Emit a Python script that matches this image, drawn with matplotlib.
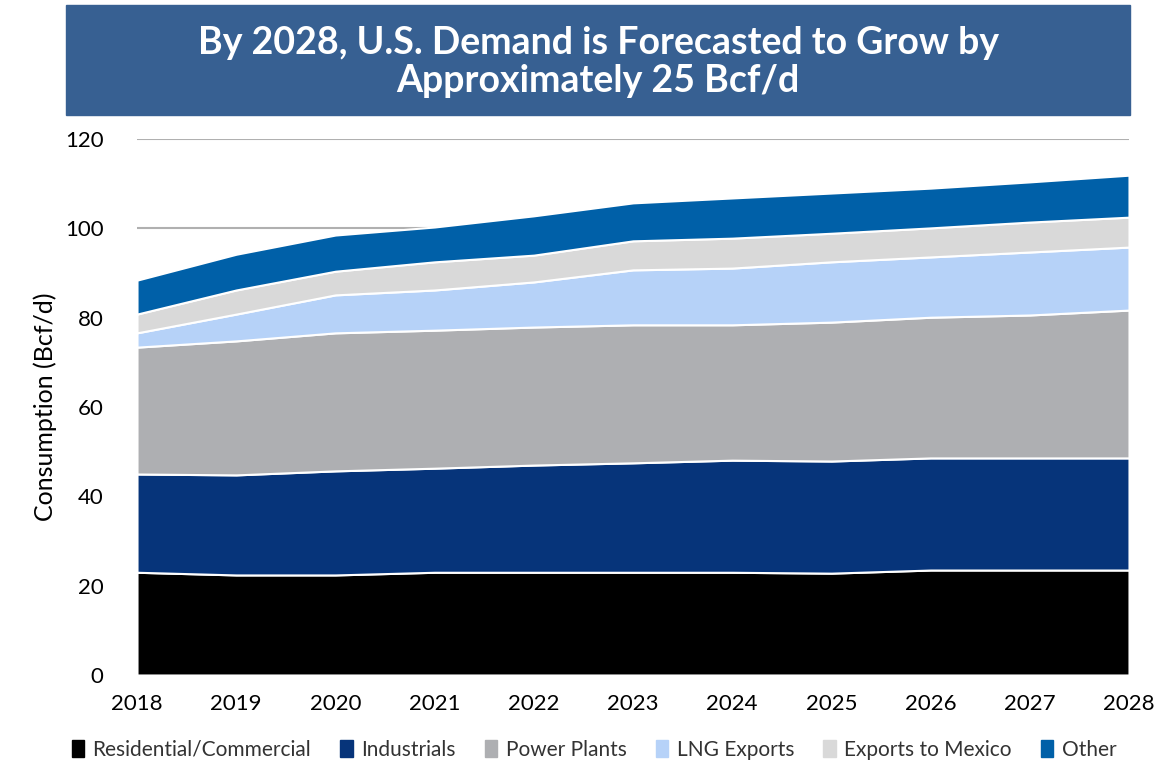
import matplotlib.pyplot as plt
import matplotlib.patches as mpatches

years = [2018, 2019, 2020, 2021, 2022, 2023, 2024, 2025, 2026, 2027, 2028]

# cumulative tops, converted to layer sizes below
top_res = [23.0, 22.4, 22.4, 23.0, 23.0, 23.0, 23.0, 22.8, 23.5, 23.5, 23.5]
top_ind = [45.0, 44.8, 45.7, 46.3, 47.0, 47.5, 48.1, 47.9, 48.6, 48.6, 48.6]
top_pow = [73.4, 74.8, 76.6, 77.2, 77.9, 78.4, 78.4, 79.0, 80.1, 80.6, 81.7]
top_lng = [76.6, 80.8, 85.1, 86.2, 88.0, 90.7, 91.1, 92.5, 93.6, 94.7, 95.8]
top_mex = [80.8, 86.2, 90.4, 92.5, 94.0, 97.2, 97.8, 98.9, 100.1, 101.4, 102.5]
top_oth = [88.4, 94.2, 98.5, 100.3, 102.8, 105.7, 106.8, 107.9, 109.0, 110.4, 111.9]

names = ["Residential/Commercial", "Industrials", "Power Plants",
         "LNG Exports", "Exports to Mexico", "Other"]
colors = ["#000000", "#06347A", "#AEAFB2", "#B6D2F8", "#D9D9D9", "#0060A8"]

tops = [top_res, top_ind, top_pow, top_lng, top_mex, top_oth]
layers = []
prev = [0.0] * len(years)
for t in tops:
    layers.append([a - b for a, b in zip(t, prev)])
    prev = t

fig = plt.figure(figsize=(11.73, 7.64), dpi=100)
ax = fig.add_axes([137/1173, 1 - 675/764, (1129-137)/1173, (675-139)/764])

ax.stackplot(years, *layers, colors=colors, edgecolor="white", linewidth=1.5,
             labels=names, zorder=2)

ax.set_xlim(2018, 2028)
ax.set_ylim(0, 120)
ax.set_yticks(range(0, 121, 20))
ax.set_xticks(years)
ax.yaxis.grid(True, color="#B0B0B0", linewidth=1.5, zorder=0)
ax.set_axisbelow(True)
for s in ax.spines.values():
    s.set_visible(False)
ax.tick_params(length=0, labelsize=16)
ax.tick_params(axis="x", pad=14)
ax.tick_params(axis="y", pad=24)
for lab in ax.get_xticklabels() + ax.get_yticklabels():
    lab.set_family("Lato")
ax.set_ylabel("Consumption (Bcf/d)", fontsize=18, family="Lato", labelpad=6)

# title banner
fig.patches.append(mpatches.Rectangle((66/1173, 1 - 115/764), (1130-66)/1173, 110/764,
                                      transform=fig.transFigure, color="#376092"))
fig.text(598/1173, 1 - 62/764, "By 2028, U.S. Demand is Forecasted to Grow by\nApproximately 25 Bcf/d",
         ha="center", va="center", color="white", fontsize=27, fontweight="bold",
         family="Lato", linespacing=1.15)

handles = [mpatches.Patch(color=c) for c in colors]
leg = fig.legend(handles, names, loc="center", bbox_to_anchor=(594/1173, 1 - 750/764),
                 ncol=6, frameon=False, prop={"family": "Lato", "size": 15},
                 handlelength=0.6, handleheight=0.9, handletextpad=0.4, columnspacing=1.4)
for t in leg.get_texts():
    t.set_color("#333333")

fig.savefig("out.png")
